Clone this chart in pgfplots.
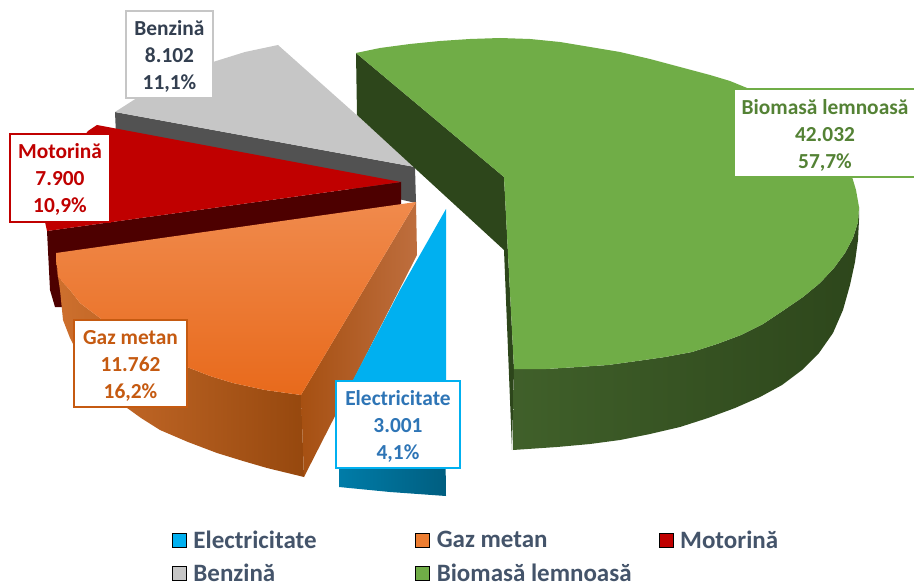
\documentclass[border=0pt]{standalone}
\usepackage{fontspec}
\setmainfont{Carlito}
\usepackage{pgfplots}
\pgfplotsset{compat=1.18}
\definecolor{cblue}{HTML}{00B0F0}
\definecolor{corange}{HTML}{ED7D31}
\definecolor{cred}{HTML}{C00000}
\definecolor{cgray}{HTML}{C6C6C6}
\definecolor{cgreen}{HTML}{70AD47}
\definecolor{legtext}{HTML}{44546A}
\newcommand{\legtxt}[1]{\makebox[222pt][l]{#1}}
\newcommand{\st}{\rule{0pt}{18pt}}
\tikzset{lab/.style={fill=white,line width=1.8pt,inner sep=0pt,align=center,
  font=\fontsize{21.4}{27}\selectfont\bfseries}}
\begin{document}
\begin{tikzpicture}
\begin{axis}[
  scale only axis, width=914pt, height=583pt,
  xmin=0, xmax=914, ymin=0, ymax=583, y dir=reverse,
  hide axis,
  legend columns=3,
  legend cell align=left,
  legend image code/.code={\fill[#1] (0pt,-7pt) rectangle (14pt,7pt);},
  legend style={at={(axis cs:172,531)}, anchor=north west, draw=none, fill=none,
    font=\fontsize{25}{28}\selectfont\bfseries, text=legtext,
    inner sep=0pt, outer sep=0pt, row sep=14pt,
    nodes={inner sep=0pt}},
  /tikz/every odd column/.append style={column sep=7pt},
]
\addlegendimage{fill=cblue}\addlegendentry{\legtxt{Electricitate}}
\addlegendimage{fill=corange}\addlegendentry{\legtxt{Gaz metan}}
\addlegendimage{fill=cred}\addlegendentry{Motorină}
\addlegendimage{fill=cgray}\addlegendentry{\legtxt{Benzină}}
\addlegendimage{fill=cgreen}\addlegendentry{\legtxt{Biomasă lemnoasă}}

% Benzina
\addplot[forget plot, fill=black!68, draw=none] coordinates {(115,112)(415,167)(416,203)(116,135)} -- cycle;
\addplot[forget plot, fill=cgray, draw=none] coordinates {(115,112)(140,96)(165,83)(190,72)(213,62)(245,52)(278,45)(415,167)} -- cycle;
% Motorina
\addplot[forget plot, fill={rgb,255:red,77;green,0;blue,0}, draw=none] coordinates {(47,231)(401,182)(401,205)(60,253)(62,307)(55,307)(50,290)} -- cycle;
\addplot[forget plot, fill=cred, draw=none] coordinates {(97,125)(88,131)(70,155)(52,190)(45,222)(47,231)(401,182)} -- cycle;
% Gaz metan
\addplot[forget plot, shade, left color={rgb,255:red,206;green,112;blue,46}, right color={rgb,255:red,150;green,72;blue,14}, draw=none]
  coordinates {(56,253)(57,270)(60,290)(63,320)(70,338)(80,358)(95,380)(108,393)(123,405)(141,418)(160,430)(188,442)(217,453)(243,461)(267,468)(304,477)(301,395)(265,390)(233,383)(210,376)(187,367)(158,355)(130,340)(115,330)(100,318)(80,303)(70,290)(58,277)} -- cycle;
\addplot[forget plot, shade, left color={rgb,255:red,166;green,80;blue,18}, right color={rgb,255:red,190;green,110;blue,62}, draw=none]
  coordinates {(416,202)(417,255)(304,477)(301,395)} -- cycle;
\addplot[forget plot, shade, top color={rgb,255:red,240;green,138;blue,76}, bottom color={rgb,255:red,232;green,106;blue,28}, draw=none]
  coordinates {(416,202)(56,253)(58,277)(70,290)(80,303)(100,318)(115,330)(130,340)(158,355)(187,367)(210,376)(233,383)(265,390)(301,395)} -- cycle;
% Electricitate
\addplot[forget plot, shade, left color={rgb,255:red,0;green,124;blue,168}, right color={rgb,255:red,0;green,94;blue,128}, draw=none]
  coordinates {(339,405)(390,412)(445,416)(446,496)(390,492)(339,487)} -- cycle;
\addplot[forget plot, fill=cblue, draw=none] coordinates {(446,209)(400,290)(353,380)(339,407)(390,412)(446,416)} -- cycle;
% Biomasa
\addplot[forget plot, fill={rgb,255:red,45;green,70;blue,27}, draw=none] coordinates {(356,53)(504,177)(514,369)(512,450)(504,250)(357,115)} -- cycle;
\addplot[forget plot, shade, left color={rgb,255:red,64;green,96;blue,42}, middle color={rgb,255:red,45;green,70;blue,27}, right color={rgb,255:red,45;green,70;blue,27}, draw=none]
  coordinates {(514,369)(546,369)(578,367)(608,365)(637,361)(665,357)(692,352)(717,344)(741,335)(763,324)(784,310)(803,297)(820,283)(834,268)(845,253)(853,238)(858,222)(859,207)(859,220)(858,240)(855,262)(850,285)(843,310)(833,333)(819,353)(802,370)(782,385)(760,397)(735,408)(708,418)(680,427)(650,434)(620,440)(590,444)(557,447)(513,450)} -- cycle;
\addplot[forget plot, fill=cgreen, draw=none]
  coordinates {(356,53)(380,48)(410,44)(440,41)(470,39)(500,38)(530,39)(560,42)(590,47)(620,52)(650,59)(680,67)(710,75)(730,81)(752,90)(780,103)(810,122)(835,146)(850,170)(856,190)(859,207)(858,222)(853,238)(845,253)(834,268)(820,283)(803,297)(784,310)(763,324)(741,335)(717,344)(692,352)(665,357)(637,361)(608,365)(578,367)(546,369)(514,369)(504,177)} -- cycle;
% caseta Biomasa, taiata de marginea axei
\addplot[forget plot, fill=white, draw=cgreen, line width=1.8pt] coordinates {(734,89)(925,89)(925,177)(734,177)} -- cycle;

\node[lab, text={rgb,255:red,84;green,130;blue,53}] at (axis cs:825,135) {Biomasă lemnoasă\\42.032\\57,7\%};
\node[lab, draw=cgray, text={rgb,255:red,51;green,63;blue,80}, minimum width=87pt, minimum height=87pt] at (axis cs:169.5,54.5) {\st Benzină\\8.102\\11,1\%};
\node[lab, draw=cred, text=cred, minimum width=100pt, minimum height=88pt] at (axis cs:60,178) {\st Motorină\\7.900\\10,9\%};
\node[lab, draw={rgb,255:red,197;green,90;blue,17}, text={rgb,255:red,197;green,90;blue,17}, minimum width=113pt, minimum height=87pt] at (axis cs:130.5,363.5) {\st Gaz metan\\11.762\\16,2\%};
\node[lab, draw=cblue, text={rgb,255:red,46;green,117;blue,182}, minimum width=124pt, minimum height=87pt] at (axis cs:398,424.5) {\st Electricitate\\3.001\\4,1\%};
\end{axis}
\pgfresetboundingbox
\path (0,0) rectangle (914pt,583pt);
\end{tikzpicture}
\end{document}
